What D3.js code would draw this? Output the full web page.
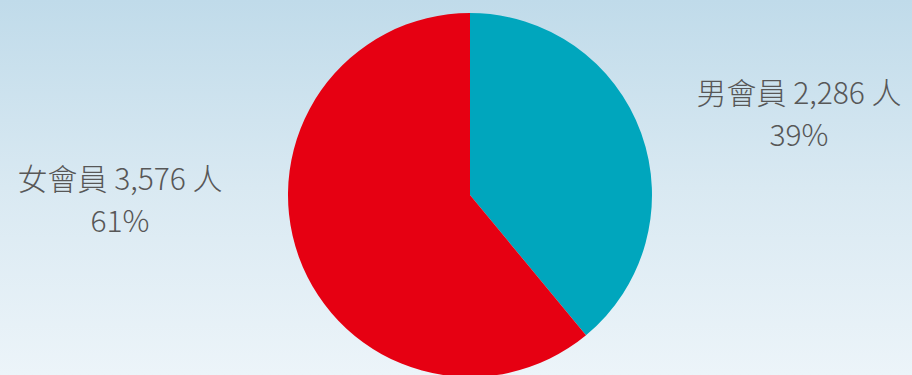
<!DOCTYPE html>
<html>
<head>
    <meta charset="utf-8">
    <script src="https://d3js.org/d3.v7.min.js"></script>
    <style>
        body { margin: 0; overflow: hidden; }
        .lbl { font-family: "Noto Sans CJK TC", "Noto Sans", sans-serif; fill: #575757; font-size: 30px; font-weight: 300; }
    </style>
</head>
<body>
    <div id="chart"></div>
    <script>
        const categories = ["男會員", "女會員"];
        const values = [2286, 3576];
        const percents = ["39%", "61%"];
        const colors = ["#00a6bd", "#e60012"];

        const width = 912, height = 375;
        const cx = 470, cy = 195, radius = 182;

        const svg = d3.select("#chart").append("svg")
            .attr("width", width)
            .attr("height", height);

        const grad = svg.append("defs").append("linearGradient")
            .attr("id", "bg")
            .attr("x1", 0).attr("y1", 0).attr("x2", 0).attr("y2", 1);
        grad.append("stop").attr("offset", "0%").attr("stop-color", "#c0dbea");
        grad.append("stop").attr("offset", "50%").attr("stop-color", "#d9e9f2");
        grad.append("stop").attr("offset", "100%").attr("stop-color", "#ecf4f9");

        svg.append("rect")
            .attr("width", width).attr("height", height)
            .attr("fill", "url(#bg)");

        const pie = d3.pie().sort(null).value(d => d);
        const arc = d3.arc().innerRadius(0).outerRadius(radius);

        const g = svg.append("g").attr("transform", `translate(${cx},${cy})`);
        g.selectAll("path")
            .data(pie(values))
            .join("path")
            .attr("d", arc)
            .attr("fill", (d, i) => colors[i]);

        // label positions: [x, baseline1, baseline2]
        const labelPos = [[799, 104, 146], [120, 190, 232]];
        const fmt = d3.format(",");

        categories.forEach((c, i) => {
            const [x, y1, y2] = labelPos[i];
            svg.append("text").attr("class", "lbl").attr("text-anchor", "middle")
                .attr("x", x).attr("y", y1)
                .text(`${c} ${fmt(values[i])} 人`);
            svg.append("text").attr("class", "lbl").attr("text-anchor", "middle")
                .attr("x", x).attr("y", y2)
                .text(percents[i]);
        });
    </script>
</body>
</html>
